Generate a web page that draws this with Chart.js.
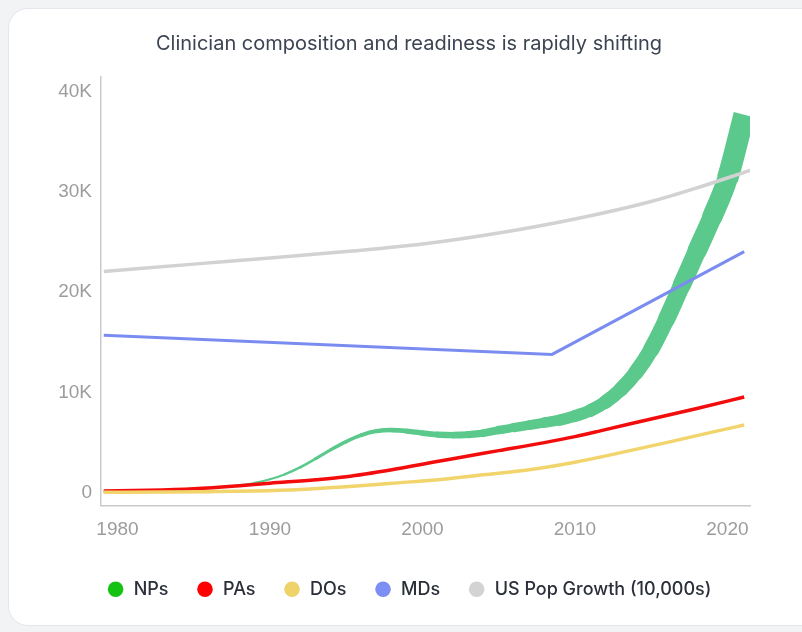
<!DOCTYPE html>
<html>
<head>
<meta charset="utf-8">
<script src="https://cdn.jsdelivr.net/npm/chart.js@4/dist/chart.umd.min.js"></script>
<style>
html,body{margin:0;padding:0;width:802px;height:632px;overflow:hidden;background:#f2f3f5;}
#card{position:absolute;left:8px;top:8px;width:830px;height:618px;background:#fff;border:1px solid #e3e6ea;border-radius:20px;box-sizing:border-box;}
#c{position:absolute;left:0;top:0;}
</style>
</head>
<body>
<div id="card"></div>
<canvas id="c" width="802" height="632"></canvas>
<script>
const chartTitle = 'Clinician composition and readiness is rapidly shifting';
const seriesNames = ['NPs', 'PAs', 'DOs', 'MDs', 'US Pop Growth (10,000s)'];
const xTickYears = [1980, 1990, 2000, 2010, 2020];
const yTickValues = [0, 10000, 20000, 30000, 40000];

const npYears = [1979.1, 1981, 1983, 1985, 1987, 1989, 1990, 1991, 1992, 1993, 1994, 1995, 1996, 1997, 1998, 1999, 2000, 2001, 2002, 2003, 2004, 2005, 2006, 2007, 2008, 2009, 2010, 2011, 2012, 2013, 2014, 2015, 2016, 2017, 2018, 2019, 2020, 2021.1];
const npValues = [100, 150, 230, 350, 600, 1000, 1350, 1850, 2550, 3400, 4300, 5100, 5750, 6150, 6250, 6150, 5950, 5800, 5750, 5800, 5950, 6250, 6500, 6750, 7000, 7250, 7650, 8200, 9050, 10300, 12000, 14300, 17300, 20700, 24100, 27500, 31300, 37700];

const paYears = [1979.1, 1982, 1985, 1988, 1990, 1993, 1995, 1998, 2000, 2002, 2005, 2008, 2010, 2012, 2015, 2018, 2021.1];
const paValues = [180, 250, 400, 700, 950, 1300, 1600, 2300, 2850, 3400, 4200, 5000, 5600, 6300, 7350, 8400, 9550];

const doYears = [1979.1, 1983, 1986, 1989, 1992, 1995, 1998, 2001, 2004, 2007, 2010, 2013, 2016, 2019, 2021.1];
const doValues = [60, 70, 110, 180, 330, 600, 950, 1300, 1800, 2300, 3050, 4000, 5000, 6050, 6750];

const mdYears = [1979.1, 2008.5, 2021.1];
const mdValues = [15700, 13800, 24050];

const popYears = [1979.1, 1985, 1990, 1995, 2000, 2005, 2010, 2015, 2018, 2021.5];
const popValues = [22070, 22800, 23400, 24050, 24800, 25900, 27300, 29050, 30400, 32150];

const lineColors = ['#5bc98b', '#f20c0c', '#f1d46b', '#7b8cf0', '#d2d2d2'];
const legendColors = ['#14c214', '#ff0000', '#efd26a', '#7d8ff2', '#d3d3d3'];

function pts(xs, ys) { return xs.map((x, i) => ({x: x, y: ys[i]})); }
function npWidth(year) {
  const t = Math.max(0, (year - 1979) / 42);
  return 1 + 21 * Math.pow(t, 2.2);
}

const npLast = npYears.length - 1;
const datasets = [
  {label: seriesNames[0], data: pts(npYears, npValues), borderColor: lineColors[0], backgroundColor: lineColors[0], order: 5, borderWidth: 2,
   segment: {
     borderWidth: c => npWidth((c.p0.parsed.x + c.p1.parsed.x) / 2),
     borderCapStyle: c => (c.p1DataIndex === npLast ? 'butt' : 'round')
   }},
  {label: seriesNames[1], data: pts(paYears, paValues), borderColor: lineColors[1], backgroundColor: lineColors[1], order: 4, borderWidth: 3.5},
  {label: seriesNames[2], data: pts(doYears, doValues), borderColor: lineColors[2], backgroundColor: lineColors[2], order: 3, borderWidth: 3.5},
  {label: seriesNames[3], data: pts(mdYears, mdValues), borderColor: lineColors[3], backgroundColor: lineColors[3], order: 2, borderWidth: 3, tension: 0, cubicInterpolationMode: 'default'},
  {label: seriesNames[4], data: pts(popYears, popValues), borderColor: lineColors[4], backgroundColor: lineColors[4], order: 1, borderWidth: 3.5}
];

new Chart(document.getElementById('c'), {
  type: 'line',
  data: {datasets: datasets},
  options: {
    responsive: false,
    animation: false,
    devicePixelRatio: 1,
    layout: {padding: {left: 52, right: 36, top: 0, bottom: 23.7}},
    elements: {
      point: {radius: 0, hoverRadius: 0},
      line: {cubicInterpolationMode: 'monotone', borderCapStyle: 'butt'}
    },
    plugins: {
      tooltip: {enabled: false},
      title: {
        display: true, text: chartTitle, color: '#3c4453',
        font: {family: 'Inter', size: 20, weight: '400'},
        padding: {top: 32, bottom: 21}
      },
      legend: {
        position: 'bottom',
        labels: {
          usePointStyle: true,
          boxWidth: 18, boxHeight: 11,
          padding: 27.5,
          color: '#2b2f3a',
          font: {family: 'Inter', size: 18, weight: '500'},
          sort: (a, b) => a.datasetIndex - b.datasetIndex,
          generateLabels: chart => {
            const items = Chart.defaults.plugins.legend.labels.generateLabels(chart);
            items.forEach(it => {
              it.fillStyle = legendColors[it.datasetIndex];
              it.strokeStyle = legendColors[it.datasetIndex];
              it.lineWidth = 0;
              it.pointStyle = 'circle';
            });
            return items;
          }
        }
      }
    },
    scales: {
      x: {
        type: 'linear', min: 1978.92, max: 2021.48,
        grid: {display: false, drawTicks: false},
        border: {display: true, color: '#cacaca', width: 1.5},
        afterBuildTicks: s => { s.ticks = xTickYears.map(v => ({value: v})); },
        afterFit: s => { s.height = 47.3; },
        ticks: {
          color: '#9c9c9c', padding: 12.5, maxRotation: 0,
          font: {family: 'Liberation Sans', size: 19},
          callback: v => String(v)
        }
      },
      y: {
        type: 'linear', position: 'left', min: -1270, max: 41460,
        grid: {display: false, drawTicks: false},
        border: {display: true, color: '#cacaca', width: 1.5},
        afterBuildTicks: s => { s.ticks = yTickValues.map(v => ({value: v})); },
        afterFit: s => { s.width = 49; },
        ticks: {
          color: '#9c9c9c', padding: 9,
          font: {family: 'Liberation Sans', size: 19},
          callback: v => (v === 0 ? '0' : (v / 1000) + 'K')
        }
      },
      yPad: {
        type: 'linear', position: 'right', min: 0, max: 1,
        grid: {display: false, drawTicks: false},
        border: {display: false},
        ticks: {display: false},
        afterFit: s => { s.width = 16; }
      }
    }
  }
});
</script>
</body>
</html>
